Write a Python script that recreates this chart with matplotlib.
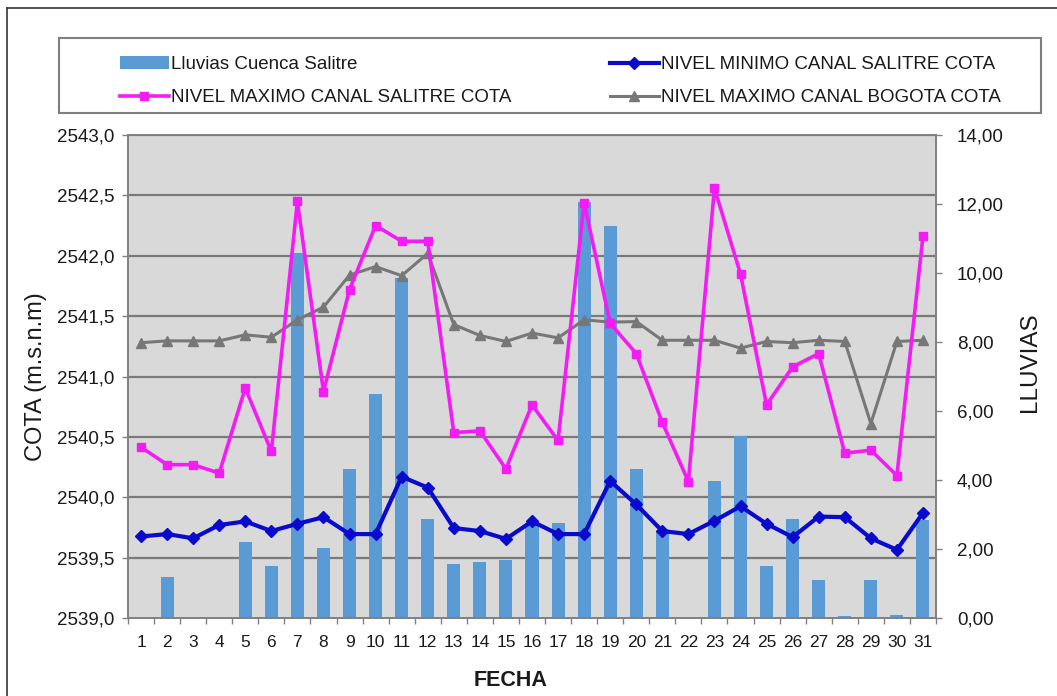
import numpy as np
import matplotlib
matplotlib.use("Agg")
import matplotlib.pyplot as plt
from matplotlib import font_manager
from matplotlib.lines import Line2D
from matplotlib.patches import Rectangle
from matplotlib.ticker import FuncFormatter, FixedLocator

# datos
dias = list(range(1, 32))
lluvias = [0, 1.18, 0, 0, 2.20, 1.50, 10.57, 2.03, 4.32, 6.49, 9.85, 2.88, 1.56, 1.62, 1.69,
           2.75, 2.75, 12.07, 11.36, 4.32, 2.51, 0, 3.96, 5.28, 1.50, 2.87, 1.11, 0.07, 1.11, 0.10, 2.85]
min_salitre = [2539.675, 2539.695, 2539.66, 2539.77, 2539.80, 2539.72, 2539.78, 2539.835, 2539.695,
               2539.695, 2540.17, 2540.08, 2539.745, 2539.72, 2539.655, 2539.80, 2539.695, 2539.695,
               2540.135, 2539.94, 2539.72, 2539.695, 2539.805, 2539.925, 2539.78, 2539.67, 2539.84,
               2539.835, 2539.66, 2539.565, 2539.87]
max_salitre = [2540.415, 2540.27, 2540.27, 2540.20, 2540.905, 2540.38, 2542.45, 2540.875, 2541.72,
               2542.25, 2542.12, 2542.12, 2540.535, 2540.55, 2540.235, 2540.765, 2540.47, 2542.44,
               2541.44, 2541.19, 2540.62, 2540.13, 2542.56, 2541.85, 2540.765, 2541.08, 2541.19,
               2540.365, 2540.39, 2540.18, 2542.16]
max_bogota = [2541.28, 2541.295, 2541.295, 2541.295, 2541.345, 2541.325, 2541.47, 2541.575, 2541.84,
              2541.91, 2541.835, 2542.02, 2541.43, 2541.34, 2541.29, 2541.36, 2541.32, 2541.47,
              2541.45, 2541.455, 2541.30, 2541.30, 2541.30, 2541.235, 2541.29, 2541.28, 2541.30,
              2541.29, 2540.61, 2541.29, 2541.30]

cota_ticks = [2539.0, 2539.5, 2540.0, 2540.5, 2541.0, 2541.5, 2542.0, 2542.5, 2543.0]
lluvia_ticks = [0, 2, 4, 6, 8, 10, 12, 14]

serie_nombres = ["Lluvias Cuenca Salitre", "NIVEL MINIMO CANAL SALITRE COTA",
                 "NIVEL MAXIMO CANAL SALITRE COTA", "NIVEL MAXIMO CANAL BOGOTA COTA"]


def pick_font(names):
    for n in names:
        try:
            font_manager.findfont(n, fallback_to_default=False)
            return n
        except Exception:
            pass
    return "DejaVu Sans"


base_font = pick_font(["Liberation Sans", "Arial"])
narrow_font = pick_font(["Liberation Sans Narrow", "Arial Narrow", "Liberation Sans"])
plt.rcParams['font.family'] = base_font

W, H = 1057, 696
fig = plt.figure(figsize=(W / 100, H / 100), dpi=100)
fig.patch.set_facecolor("white")

# ejes: barras (primario, escala derecha) y lineas (gemelo, escala izquierda)
left, right, top, bottom = 128, 936, 135, 618
ax = fig.add_axes([left / W, 1 - bottom / H, (right - left) / W, (bottom - top) / H])
ax.set_facecolor("#D9D9D9")
ax2 = ax.twinx()
ax2.patch.set_visible(False)

x = np.array(dias)
ax.set_xlim(0.5, 31.5)
ax.set_ylim(0, 14)
ax2.set_ylim(2539.0, 2543.0)

# lineas de rejilla detras de las barras
for v in cota_ticks[1:]:
    ax.axhline((v - 2539.0) * 14 / 4.0, color="#7A7A7A", lw=1.6, zorder=0.5)

bars = ax.bar(x, lluvias, width=0.5, color="#5B9BD5", zorder=2, label=serie_nombres[0])

l_min, = ax2.plot(x, min_salitre, color="#0A0ACC", lw=3, marker="D", ms=6,
                  label=serie_nombres[1], zorder=5)
l_max, = ax2.plot(x, max_salitre, color="#F41CF4", lw=2.6, marker="s", ms=6,
                  label=serie_nombres[2], zorder=4)
l_bog, = ax2.plot(x, max_bogota, color="#777777", lw=2.2, marker="^", ms=7,
                  label=serie_nombres[3], zorder=3)

# ejes y ticks
ax.yaxis.tick_right()
ax.yaxis.set_label_position("right")
ax.set_yticks(lluvia_ticks)
ax.yaxis.set_major_formatter(FuncFormatter(lambda v, p: f"{v:.2f}".replace(".", ",")))
ax.tick_params(axis="y", which="major", direction="out", length=4, width=1, color="#808080",
               pad=11, labelsize=13.5, labelcolor="#1A1A1A")
ax.set_ylabel("LLUVIAS", fontsize=17.5, color="#1A1A1A")
ax.yaxis.set_label_coords(1.103, 0.53)

ax2.yaxis.tick_left()
ax2.yaxis.set_label_position("left")
ax2.set_yticks(cota_ticks)
ax2.yaxis.set_major_formatter(FuncFormatter(lambda v, p: f"{v:.1f}".replace(".", ",")))
ax2.tick_params(axis="y", which="major", direction="out", length=4, width=1, color="#808080",
                pad=6, labelsize=13.5, labelcolor="#1A1A1A")
ax2.set_ylabel("COTA (m.s.n.m)", fontsize=17, color="#1A1A1A")
ax2.yaxis.set_label_coords(-0.100, 0.5)

ax.set_xticks(x)
ax.set_xticklabels([str(d) for d in dias])
ax.xaxis.set_minor_locator(FixedLocator(np.arange(0.5, 32, 1)))
ax.tick_params(axis="x", which="major", length=0, pad=12, labelsize=12.5, labelcolor="#1A1A1A")
ax.tick_params(axis="x", which="minor", direction="out", length=4, width=1, color="#808080")
ax2.tick_params(axis="x", which="both", length=0)
ax.set_xlabel("FECHA", fontsize=15.5, fontweight="bold", color="#1A1A1A")
ax.xaxis.set_label_coords(0.473, -0.107)

for a in (ax, ax2):
    for s in a.spines.values():
        s.set_color("#808080")
        s.set_linewidth(1.2)

# marco exterior (solo borde superior e izquierdo visibles)
fig.add_artist(Line2D([7 / W, 7 / W], [0, 1 - 8 / H], transform=fig.transFigure,
                      color="#333333", lw=1.2))
fig.add_artist(Line2D([7 / W, 1], [1 - 8 / H, 1 - 8 / H], transform=fig.transFigure,
                      color="#333333", lw=1.2))

# leyenda
fig.add_artist(Rectangle((59 / W, 1 - 113 / H), (1041 - 59) / W, 75 / H,
                         transform=fig.transFigure, facecolor="white",
                         edgecolor="#7F7F7F", lw=1.5))
leg_kw = dict(frameon=False, loc="upper left", handlelength=2.6,
              handletextpad=0.1, labelspacing=0.85, borderpad=0, borderaxespad=0,
              numpoints=1, prop={"family": narrow_font, "size": 13.5})
leg1 = fig.legend([bars, l_max], [serie_nombres[0], serie_nombres[2]],
                  bbox_to_anchor=(120 / W, 1 - 56 / H), **leg_kw)
leg2 = fig.legend([l_min, l_bog], [serie_nombres[1], serie_nombres[3]],
                  bbox_to_anchor=(610 / W, 1 - 56 / H), **leg_kw)
for lg in (leg1, leg2):
    for t in lg.get_texts():
        t.set_color("#1A1A1A")

fig.savefig("out.png", dpi=100, facecolor="white")
